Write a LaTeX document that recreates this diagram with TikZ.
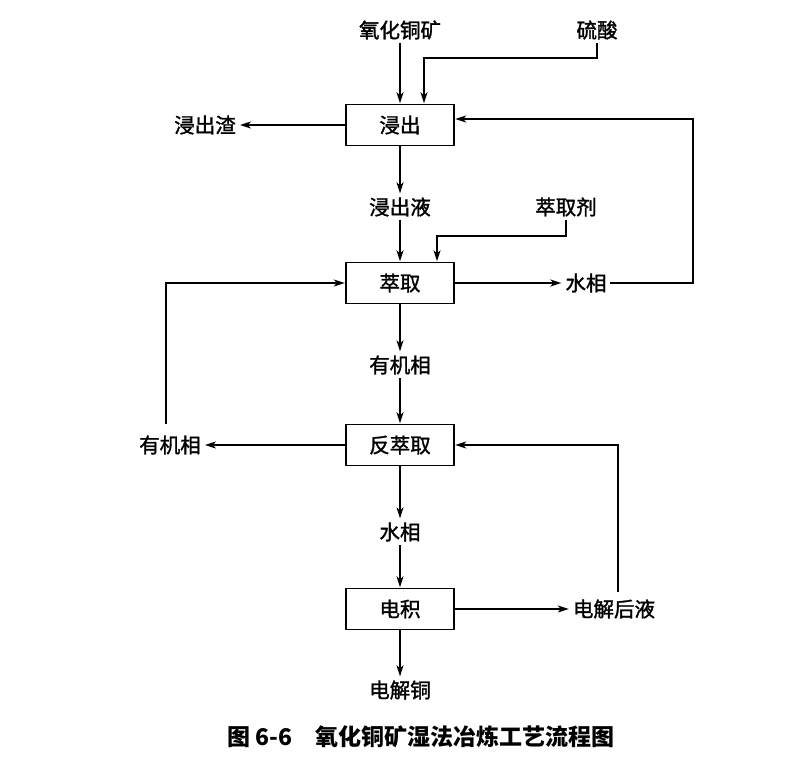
\documentclass[tikz,border=0pt]{standalone}
\usepackage{fontspec}
\setmainfont{Noto Sans CJK SC}
\newfontfamily\labfont[FakeBold=1.5]{Noto Sans CJK SC}
\usetikzlibrary{arrows.meta,calc,positioning}

\begin{document}
\begin{tikzpicture}[x=1pt,y=-1pt,>={Stealth[length=11pt,width=7pt,inset=3pt]},line width=1.4pt,
font=\labfont\fontsize{20.5}{22}\selectfont]
\tikzstyle{unit}=[draw,minimum width=108pt,minimum height=41pt,inner sep=0pt]
\tikzstyle{stream}=[inner sep=3pt]
\tikzstyle{flow}=[->,shorten >=0.5pt]

\useasboundingbox (0,0) rectangle (802,759);

% main column
\node[stream] (ore)       at (400,30)  {氧化铜矿};
\node[stream] (acid)      at (597,30)  {硫酸};
\node[unit]   (leach)     at (400,125) {浸出};
\node[stream] (residue)   at (205,125) {浸出渣};
\node[stream] (liquor)    at (400,207) {浸出液};
\node[stream] (extractant) at (566,207) {萃取剂};
\node[unit]   (extract)   at (400,283) {萃取};
\node[stream] (aqa)       at (586,283) {水相};
\node[stream] (orga)      at (400,365) {有机相};
\node[unit]   (strip)     at (400,445) {反萃取};
\node[stream] (orgb)      at (170,445) {有机相};
\node[stream] (aqb)       at (400,532) {水相};
\node[unit]   (ew)        at (400,609) {电积};
\node[stream] (spent)     at (614,609) {电解后液};
\node[stream] (cathode)   at (400,690) {电解铜};

\node[font=\fontsize{23}{25}\selectfont\bfseries] (title) at (421,737) {图 6-6\quad 氧化铜矿湿法冶炼工艺流程图};

\coordinate (acidjoin) at (424,58);
\coordinate (exjoin)   at (437,236);
\coordinate (reta)     at (693,119);
\coordinate (retb)     at (166,283);
\coordinate (retc)     at (618,445);

\draw[flow] (ore) -- (leach);
\draw[flow] (acid) |- (acidjoin) -- (acidjoin |- leach.north);
\draw[flow] (leach) -- (residue);
\draw[flow] (leach) -- (liquor);
\draw[flow] (liquor) -- (extract);
\draw[flow] (extractant) |- (exjoin) -- (exjoin |- extract.north);
\draw[flow] (extract) -- (aqa);
\draw[flow] (aqa) -| (reta) -- (reta -| leach.east);
\draw[flow] (extract) -- (orga);
\draw[flow] (orga) -- (strip);
\draw[flow] (strip) -- (orgb);
\draw[flow,shorten <=8pt] (orgb.north -| retb) -- (retb) -- (extract.west);
\draw[flow] (strip) -- (aqb);
\draw[flow] (aqb) -- (ew);
\draw[flow] (ew) -- (spent);
\draw[flow,shorten <=4pt] (spent.north -| retc) -- (retc) -- (strip.east);
\draw[flow] (ew) -- (cathode);
\end{tikzpicture}
\end{document}
